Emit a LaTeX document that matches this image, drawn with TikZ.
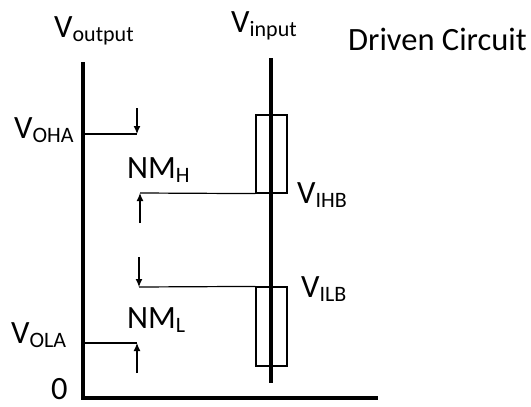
\documentclass[tikz,border=0pt]{standalone}
\usepackage{fontspec}
\setmainfont{Carlito}
\usetikzlibrary{arrows.meta}
\newcommand\lsub[1]{\raisebox{-4pt}{\fontsize{22}{24}\selectfont #1}}
\tikzset{
  axis/.style={line width=3.5pt},
  level/.style={line width=1.2pt},
  nmarrow/.style={line width=1.2pt, -{Latex[length=8pt,width=7pt]}},
  lab/.style={anchor=base west, inner sep=0pt, font=\fontsize{32.5}{36}\selectfont}
}
\begin{document}
\begin{tikzpicture}[x=1pt, y=-1pt]
  \useasboundingbox (0,0) rectangle (531,407);

  % axes
  \coordinate (outtop) at (83,62);
  \coordinate (origin) at (83,398);
  \coordinate (xend) at (378,398);
  \draw[axis] (outtop) -- (origin) -- (xend);

  \coordinate (intop) at (271,58);
  \coordinate (inbot) at (271,383);
  \draw[axis] (intop) -- (inbot);

  % input bands
  \node[draw, level, minimum width=31pt, minimum height=78pt, inner sep=0pt] (ihb) at (271.5,154) {};
  \node[draw, level, minimum width=31pt, minimum height=79pt, inner sep=0pt] (ilb) at (271.5,326.5) {};

  % output levels
  \coordinate (oha) at (83,134);
  \coordinate (ohaend) at (137,134);
  \coordinate (ohatail) at (137,108);
  \draw[level] (oha) -- (ohaend);
  \draw[nmarrow] (ohatail) -- (ohaend);

  \coordinate (nmh) at (140,193);
  \coordinate (nmhtail) at (140,223);
  \draw[level] (nmh) -- (ihb.south west);
  \draw[nmarrow] (nmhtail) -- (nmh);

  \coordinate (nml) at (139,287);
  \coordinate (nmltail) at (139,257);
  \draw[level] (nml) -- (ilb.north west);
  \draw[nmarrow] (nmltail) -- (nml);

  \coordinate (ola) at (83,343);
  \coordinate (olaend) at (137,343);
  \coordinate (olatail) at (137,373);
  \draw[level] (ola) -- (olaend);
  \draw[nmarrow] (olatail) -- (olaend);

  % labels
  \node[lab] (voutput) at (54,37) {V\lsub{output}};
  \node[lab] (vinput) at (231,32) {V\lsub{input}};
  \node[lab] (title) at (348,50) {Driven Circuit};
  \node[lab] (voha) at (14,138) {V\lsub{OHA}};
  \node[lab] (nmhlab) at (127,178) {NM\lsub{H}};
  \node[lab] (vihb) at (297,203) {V\lsub{IHB}};
  \node[lab] (vilb) at (301,297) {V\lsub{ILB}};
  \node[lab] (nmllab) at (127,328) {NM\lsub{L}};
  \node[lab] (vola) at (11,343) {V\lsub{OLA}};
  \node[lab] (zero) at (51,399) {0};
\end{tikzpicture}
\end{document}
